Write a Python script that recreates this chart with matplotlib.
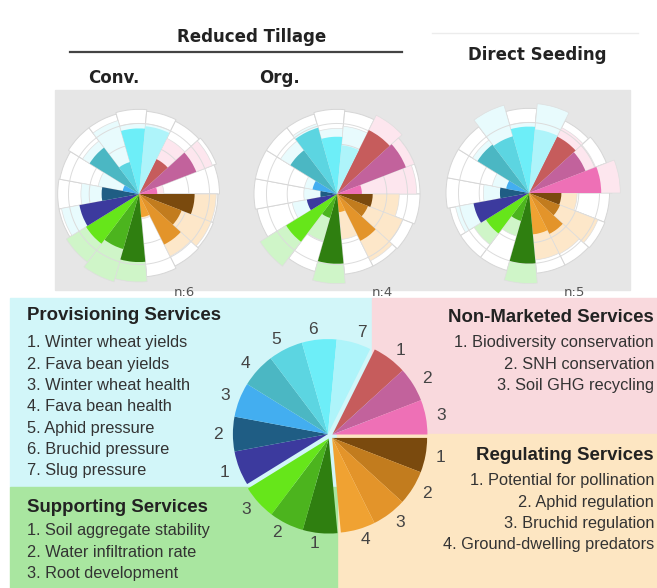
import numpy as np
import matplotlib.pyplot as plt
from matplotlib.patches import Rectangle

W, H = 657, 588

# --- legend items per service group ---
prov_items = ['Winter wheat yields', 'Fava bean yields', 'Winter wheat health',
              'Fava bean health', 'Aphid pressure', 'Bruchid pressure', 'Slug pressure']
nm_items = ['Biodiversity conservation', 'SNH conservation', 'Soil GHG recycling']
reg_items = ['Potential for pollination', 'Aphid regulation', 'Bruchid regulation',
             'Ground-dwelling predators']
sup_items = ['Soil aggregate stability', 'Water infiltration rate', 'Root development']

prov_colors = ['#3c3a9e', '#1f5d84', '#43aef0', '#4bb7c3', '#5cd5e1', '#6deef8', '#aef4fa']
nm_colors = ['#c65c5c', '#c2629c', '#ee70b6']
reg_colors = ['#7a4a0e', '#c27c1e', '#e3942a', '#f0a232']
sup_colors = ['#2f7f10', '#4cb41e', '#66e61a']

prov_tint, nm_tint, reg_tint, sup_tint = '#e8fbfd', '#fde6ee', '#fde7c9', '#cff5c8'

# --- rose values, clockwise from Non-marketed 1: NM1-3, Reg1-4, Sup1-3, Prov1-7 ---
charts = ['Conv.', 'Org.', 'Direct Seeding']
n_farms = [6, 4, 5]
med = [
    [0.47, 0.74, 0.22, 0.67, 0.55, 0.68, 0.28, 0.82, 0.69, 0.75, 0.73, 0.45, 0.20, 0.70, 0.40, 0.79, 0.82],
    [0.86, 0.89, 0.30, 0.43, 0.40, 0.63, 0.22, 0.84, 0.30, 0.72, 0.37, 0.20, 0.30, 0.66, 0.83, 0.69, 0.59],
    [0.76, 0.73, 0.87, 0.39, 0.40, 0.55, 0.50, 0.85, 0.35, 0.61, 0.68, 0.35, 0.28, 0.73, 0.71, 0.80, 0.77],
]
upp = [
    [0.75, 0.95, 0.30, 0.93, 0.93, 0.84, 0.30, 1.06, 1.10, 1.03, 0.95, 0.70, 0.50, 0.80, 0.92, 0.85, 0.85],
    [1.06, 1.00, 0.96, 0.75, 0.85, 0.90, 0.55, 1.08, 0.59, 1.09, 0.55, 0.40, 0.40, 0.80, 0.88, 0.79, 0.82],
    [0.88, 0.86, 1.10, 0.58, 0.89, 0.82, 0.81, 1.09, 0.54, 0.78, 0.90, 0.55, 0.45, 0.80, 1.10, 0.85, 1.08],
]
mx = [
    [0.98, 1.00, 0.97, 0.95, 0.96, 0.97, 1.00, 0.95, 0.97, 0.98, 0.98, 0.98, 0.97, 1.00, 1.00, 1.02, 1.00],
    [1.00, 1.00, 1.00, 1.00, 0.98, 0.97, 0.97, 0.97, 0.97, 0.97, 0.98, 1.00, 1.00, 1.00, 1.00, 1.02, 1.00],
    [0.97, 1.00, 1.00, 0.97, 0.98, 0.97, 0.97, 0.97, 0.97, 0.97, 0.97, 1.00, 1.00, 1.00, 1.00, 1.02, 1.00],
]

groups = [(nm_colors, nm_tint), (reg_colors, reg_tint), (sup_colors, sup_tint), (prov_colors, prov_tint)]
sat_cols = sum([g[0] for g in groups], [])
tint_cols = sum([[g[1]] * len(g[0]) for g in groups], [])
n_sect = len(sat_cols)
step = 360 / n_sect
start = len(nm_colors) * step  # NM block ends at horizontal
centers = np.radians(start - (np.arange(n_sect) + 0.5) * step)

fig = plt.figure(figsize=(W / 100, H / 100), dpi=100)
bg = fig.add_axes([0, 0, 1, 1])
bg.set_xlim(0, W)
bg.set_ylim(H, 0)
bg.axis('off')

# --- header ---
hfont = dict(family='DejaVu Sans', fontweight='bold', color='#222', fontsize=12)
bg.text(252, 37, 'Reduced Tillage', ha='center', va='center', **hfont)
bg.plot([70, 402], [52, 52], color='#444', lw=1.6)
bg.text(114, 78, charts[0], ha='center', va='center', **hfont)
bg.text(279, 78, charts[1], ha='center', va='center', **hfont)
bg.text(537, 55, charts[2], ha='center', va='center', **hfont)
bg.plot([432, 638], [33, 33], color='#ececec', lw=1)
bg.add_patch(Rectangle((55, 90), 575, 200, color='#e6e6e6', zorder=0))

# --- roses ---
rose_xy = [(139, 194), (337, 194), (529, 193)]
R = 83
lim = 1.25
for i, (cx, cy) in enumerate(rose_xy):
    rp = R * lim
    ax = fig.add_axes([(cx - rp) / W, (H - cy - rp) / H, 2 * rp / W, 2 * rp / H], projection='polar')
    ax.set_facecolor('none')
    ax.set_ylim(0, lim)
    w = np.radians(step)
    ax.bar(centers, mx[i], width=w, color='white', edgecolor='#d6d6d6', linewidth=0.7, zorder=1)
    ax.bar(centers, upp[i], width=w, color=tint_cols, edgecolor='#dedede', linewidth=0.5, zorder=2)
    t = np.linspace(0, 2 * np.pi, 200)
    for r in [0.6, 0.85]:
        ax.plot(t, np.full_like(t, r), color='#dcdcdc', lw=0.7, zorder=3)
    ax.bar(centers, med[i], width=w, color=sat_cols, linewidth=0, zorder=4)
    ax.axis('off')
    bg.text(cx + 45, 292, f'n:{n_farms[i]}', ha='center', va='center', fontsize=9.5, color='#555')

# --- legend boxes ---
bg.add_patch(Rectangle((10, 298), 362, 189, color='#d2f6f9', zorder=0))
bg.add_patch(Rectangle((372, 298), 285, 136, color='#f9d9dd', zorder=0))
bg.add_patch(Rectangle((337, 434), 320, 154, color='#fde6c2', zorder=0))
bg.add_patch(Rectangle((10, 487), 327, 101, color='#a9e6a0', zorder=0))

tfont = dict(family='Liberation Sans', fontweight='bold', fontsize=13.4, color='#222')
ifont = dict(family='Liberation Sans', fontsize=11.8, color='#333')
dy = 21.3

bg.text(27, 316, 'Provisioning Services', ha='left', va='center', **tfont)
for k, s in enumerate(prov_items):
    bg.text(27, 343 + k * dy, f'{k + 1}. {s}', ha='left', va='center', **ifont)
bg.text(27, 507, 'Supporting Services', ha='left', va='center', **tfont)
for k, s in enumerate(sup_items):
    bg.text(27, 531 + k * dy, f'{k + 1}. {s}', ha='left', va='center', **ifont)
bg.text(654, 318, 'Non-Marketed Services', ha='right', va='center', **tfont)
for k, s in enumerate(nm_items):
    bg.text(654, 343 + k * dy, f'{k + 1}. {s}', ha='right', va='center', **ifont)
bg.text(654, 455, 'Regulating Services', ha='right', va='center', **tfont)
for k, s in enumerate(reg_items):
    bg.text(654, 481 + k * dy, f'{k + 1}. {s}', ha='right', va='center', **ifont)

# --- legend pie ---
pc = (330, 436)
PR = 95
plim = 1.35
pp = PR * plim
pax = fig.add_axes([(pc[0] - pp) / W, (H - pc[1] - pp) / H, 2 * pp / W, 2 * pp / H])
ang = start
for cols, _ in groups:
    n = len(cols)
    mid = np.radians(ang - n * step / 2)
    off = 0.03
    pax.pie([1 / n_sect] * n, colors=cols, startangle=ang, counterclock=False, normalize=False,
            radius=1, center=(off * np.cos(mid), off * np.sin(mid)),
            labels=[str(k + 1) for k in range(n)], labeldistance=1.11,
            textprops=dict(fontsize=12.5, color='#444', family='Liberation Sans'),
            wedgeprops=dict(linewidth=0))
    ang -= n * step
pax.set_xlim(-plim, plim)
pax.set_ylim(-plim, plim)
pax.set_aspect('equal')
pax.axis('off')

fig.savefig('out.png', dpi=100)
